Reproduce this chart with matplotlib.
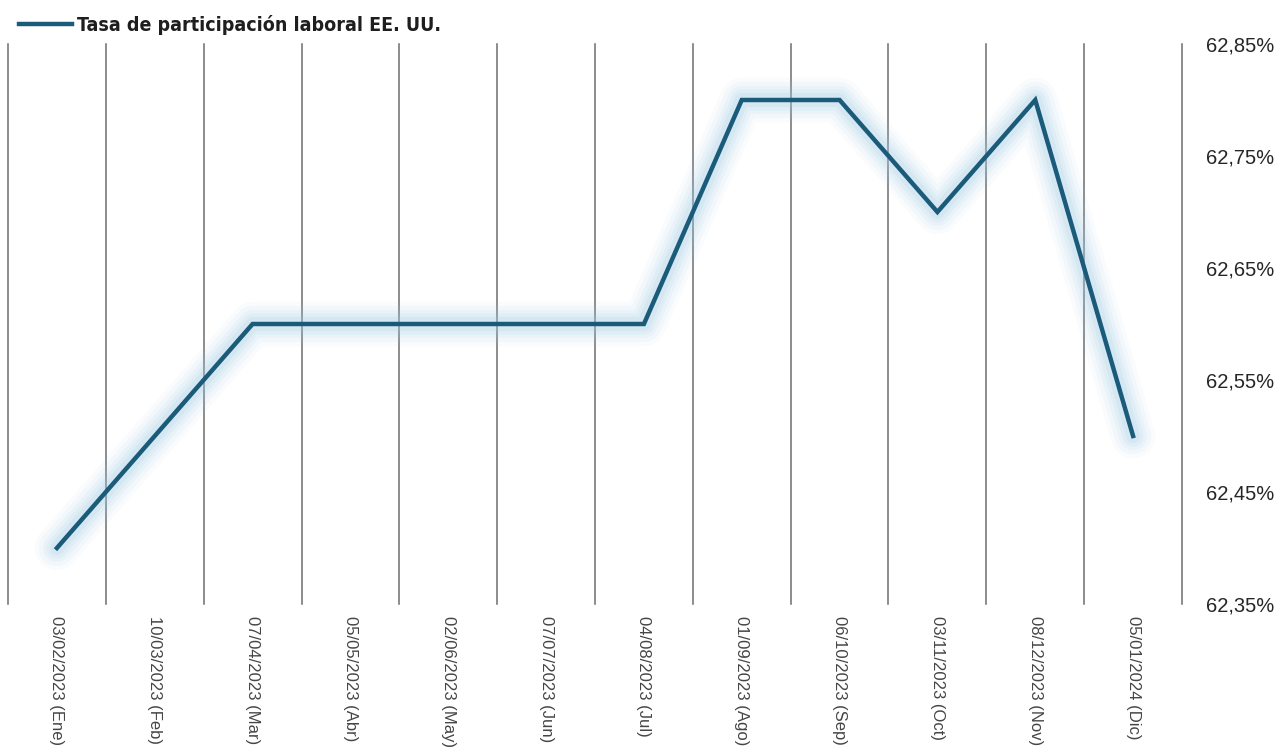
import matplotlib.pyplot as plt
from matplotlib.ticker import FuncFormatter

fechas = ['03/02/2023 (Ene)', '10/03/2023 (Feb)', '07/04/2023 (Mar)', '05/05/2023 (Abr)',
          '02/06/2023 (May)', '07/07/2023 (Jun)', '04/08/2023 (Jul)', '01/09/2023 (Ago)',
          '06/10/2023 (Sep)', '03/11/2023 (Oct)', '08/12/2023 (Nov)', '05/01/2024 (Dic)']
tasa = [62.40, 62.50, 62.60, 62.60, 62.60, 62.60, 62.60, 62.80, 62.80, 62.70, 62.80, 62.50]
yticks = [62.35, 62.45, 62.55, 62.65, 62.75, 62.85]

color = '#1b5b7a'
glow = '#9fcbe6'

fig = plt.figure(figsize=(12.81, 7.47), dpi=100)
ax = fig.add_axes([8 / 1281, 143 / 747, 1174 / 1281, 560 / 747])

x = range(len(tasa))

# vertical separators between months
for k in range(len(tasa) + 1):
    ax.axvline(k - 0.5, color='#6e6e6e', linewidth=1.1, zorder=1, clip_on=False)

# soft halo under the line
for w, a in [(32, 0.06), (26, 0.08), (20, 0.10), (15, 0.12), (10, 0.15)]:
    ax.plot(x, tasa, color=glow, linewidth=w, alpha=a, solid_capstyle='round',
            solid_joinstyle='round', zorder=2)
ax.plot(x, tasa, color=color, linewidth=3.2, solid_joinstyle='miter', zorder=3,
        label='Tasa de participación laboral EE. UU.')

ax.set_xlim(-0.5, len(tasa) - 0.5)
ax.set_ylim(62.35, 62.85)
ax.set_yticks(yticks)
ax.yaxis.set_major_formatter(FuncFormatter(lambda v, p: f'{v:.2f}%'.replace('.', ',')))
ax.yaxis.tick_right()
ax.tick_params(axis='y', length=0, pad=17, labelsize=14.5, labelcolor='#262626')
ax.set_xticks(list(x))
ax.set_xticklabels(fechas, rotation=270, fontsize=12, color='#454545',
                   family='Liberation Sans', va='top', ha='center')
ax.tick_params(axis='x', length=0, pad=9)
for lab in ax.get_yticklabels():
    lab.set_family('Liberation Sans')
for s in ax.spines.values():
    s.set_visible(False)

leg = fig.legend(loc='upper left', bbox_to_anchor=(4 / 1281, 1.0), frameon=False,
                 handlelength=2.75, handletextpad=0.25, borderaxespad=0.35,
                 prop={'family': 'DejaVu Sans', 'weight': 'bold', 'size': 14,
                       'stretch': 'condensed'})
for t in leg.get_texts():
    t.set_color('#1e1e1e')

fig.savefig('out.png', dpi=100)
